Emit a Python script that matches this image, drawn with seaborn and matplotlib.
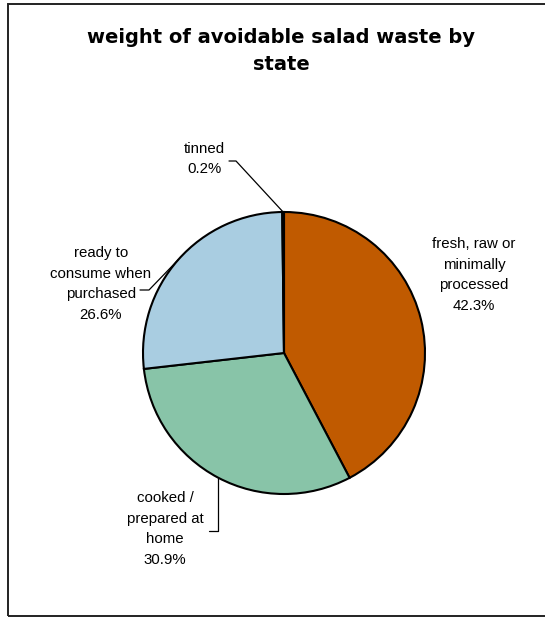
import numpy as np
import seaborn as sns
import matplotlib.pyplot as plt
from matplotlib.patches import Rectangle

sns.set_style("white")
plt.rcParams['font.family'] = ['Liberation Sans', 'DejaVu Sans']

# data
states = ["fresh, raw or\nminimally\nprocessed", "cooked /\nprepared at\nhome",
          "ready to\nconsume when\npurchased", "tinned"]
shares = [42.3, 30.9, 26.6, 0.2]
colours = sns.color_palette(["#C05A00", "#88C4A8", "#A9CDE1", "#141414"])

W, H = 545, 618
CX, CY, R = 284, 353, 141


def px(x, y):
    # pixel position in the picture -> data units of the pie (radius 1)
    return (x - CX) / R, (CY - y) / R


fig = plt.figure(figsize=(W / 100, H / 100), dpi=100)
ax = fig.add_axes([0, 0, 1, 1])

wedges, _ = ax.pie(shares, colors=colours, startangle=90, counterclock=False,
                   radius=1, center=(0, 0),
                   wedgeprops=dict(edgecolor="black", linewidth=1.5))
ax.set_aspect("auto")
ax.set_xlim(-CX / R, (W - CX) / R)
ax.set_ylim(-(H - CY) / R, CY / R)
ax.axis("off")

# label text positions (pixels) and leader line elbows
label_pos = [(474, 275), (165, 529), (101, 284), (204, 159)]
elbows = [None, [(218, 531), (209, 531)], [(149, 290), (140, 290)], [(236, 161), (229, 161)]]

for w, name, val, pos, elb in zip(wedges, states, shares, label_pos, elbows):
    ax.text(*px(*pos), f"{name}\n{val:.1f}%", ha="center", va="center",
            fontsize=10.8, linespacing=1.62, color="black")
    if elb is not None:
        mid = np.deg2rad((w.theta1 + w.theta2) / 2)
        xs = [np.cos(mid)] + [px(*p)[0] for p in elb]
        ys = [np.sin(mid)] + [px(*p)[1] for p in elb]
        if name.startswith("cooked"):
            xs[1] = xs[0]
        ax.plot(xs, ys, color="black", linewidth=0.9)

fig.text(281 / W, 1 - 51 / H, "weight of avoidable salad waste by\nstate",
         ha="center", va="center", fontsize=14, fontweight="bold",
         family=["DejaVu Sans"], linespacing=1.5, color="black")

fig.patches.append(Rectangle((8 / W, 2 / H), 1.0, 612 / H, transform=fig.transFigure,
                             fill=False, edgecolor="#222222", linewidth=1.4))

fig.savefig("out.png", dpi=100)
